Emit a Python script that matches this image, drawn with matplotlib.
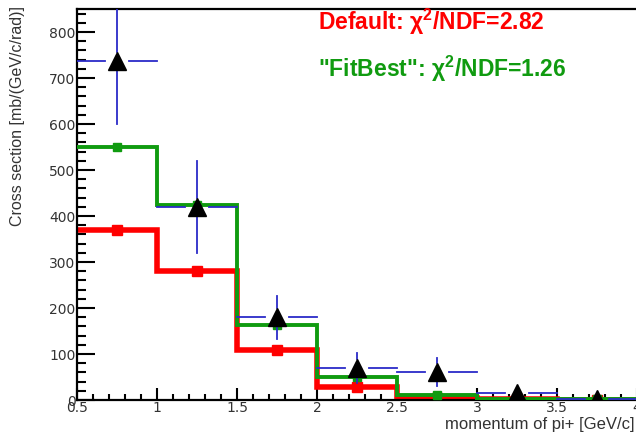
import numpy as np
import matplotlib
matplotlib.use("Agg")
import matplotlib.pyplot as plt
from matplotlib.ticker import MultipleLocator

# binning (momentum of pi+, GeV/c)
edges = [0.5, 1.0, 1.5, 2.0, 2.5, 3.0, 3.5, 4.0]
centers = [0.75, 1.25, 1.75, 2.25, 2.75, 3.25, 3.75]

# measured data
data_y = [737, 420, 180, 70, 61, 15, 3]
data_err = [137, 100, 47, 33, 30, 6, 3]

# model predictions
default_y = [370, 280, 108, 28, 5, 2, 1]
fitbest_y = [550, 425, 163, 50, 10, 3, 2]

red = "#ff0000"
green = "#109b10"
blue = "#2b2bc8"

plt.rcParams["font.family"] = ["Liberation Sans", "DejaVu Sans"]
plt.rcParams["mathtext.fontset"] = "custom"
plt.rcParams["mathtext.rm"] = "Liberation Sans"
plt.rcParams["mathtext.it"] = "Liberation Sans"
plt.rcParams["mathtext.bf"] = "Liberation Sans:bold"

fig = plt.figure(figsize=(6.36, 4.34), dpi=100)
ax = fig.add_axes([77/636, 1-400/434, 560/636, 391/434])

ax.stairs(default_y, edges, color=red, lw=4.0, baseline=None, zorder=2)
ax.plot(centers, default_y, "s", color=red, ms=6.5, zorder=2)
ax.stairs(fitbest_y, edges, color=green, lw=2.8, baseline=None, zorder=3)
ax.plot(centers, fitbest_y, "s", color=green, ms=5.5, zorder=3)

# ROOT style error bars with a gap round the marker
half = 0.25; gx = 0.075; gy = 20
for xc, yv, e in zip(centers, data_y, data_err):
    ax.plot([xc-half, xc-gx], [yv, yv], color=blue, lw=1.3, zorder=4)
    ax.plot([xc+gx, xc+half], [yv, yv], color=blue, lw=1.3, zorder=4)
    if e > gy:
        ax.plot([xc, xc], [yv+gy, yv+e], color=blue, lw=1.3, zorder=4)
        ax.plot([xc, xc], [yv-gy, yv-e], color=blue, lw=1.3, zorder=4)
ax.plot(centers, data_y, "^", color="black", ms=13, zorder=5)

ax.set_xlim(0.5, 4.0)
ax.set_ylim(0, 850)
ax.xaxis.set_major_locator(MultipleLocator(0.5))
ax.xaxis.set_minor_locator(MultipleLocator(0.1))
ax.yaxis.set_major_locator(MultipleLocator(100))
ax.yaxis.set_minor_locator(MultipleLocator(20))
ax.set_xticks(np.arange(0.5, 4.01, 0.5))
ax.set_xticklabels(["0.5", "1", "1.5", "2", "2.5", "3", "3.5", "4"])

ax.tick_params(which="both", direction="in", colors="black", labelsize=10,
               width=1.5, top=False, right=False)
ax.tick_params(axis="y", which="major", length=13, pad=1)
ax.tick_params(axis="y", which="minor", length=6.5)
ax.tick_params(axis="x", which="major", length=8.5, pad=1)
ax.tick_params(axis="x", which="minor", length=4.3)
for t in ax.get_xticklabels() + ax.get_yticklabels():
    t.set_fontfamily("DejaVu Sans")
    t.set_color("#333333")

for s in ax.spines.values():
    s.set_linewidth(1.6)
ax.spines["right"].set_visible(False)

fig.text(10/636, 1-6/434, "Cross section [mb/(GeV/c/rad)]", rotation=90,
         ha="left", va="top", fontsize=11.5, color="#333333")
fig.text(445/636, 1-425/434, "momentum of pi+ [GeV/c]", ha="left", va="center",
         fontsize=12, color="#333333")

fig.text(318/636, 1-22/434, r'Default: $\mathbf{\chi^{2}}$/NDF=2.82', color=red,
         fontsize=16.5, fontweight="bold", va="center", ha="left")
fig.text(318/636, 1-69/434, r'"FitBest": $\mathbf{\chi^{2}}$/NDF=1.26', color=green,
         fontsize=16.5, fontweight="bold", va="center", ha="left")

fig.savefig("out.png", dpi=100)
